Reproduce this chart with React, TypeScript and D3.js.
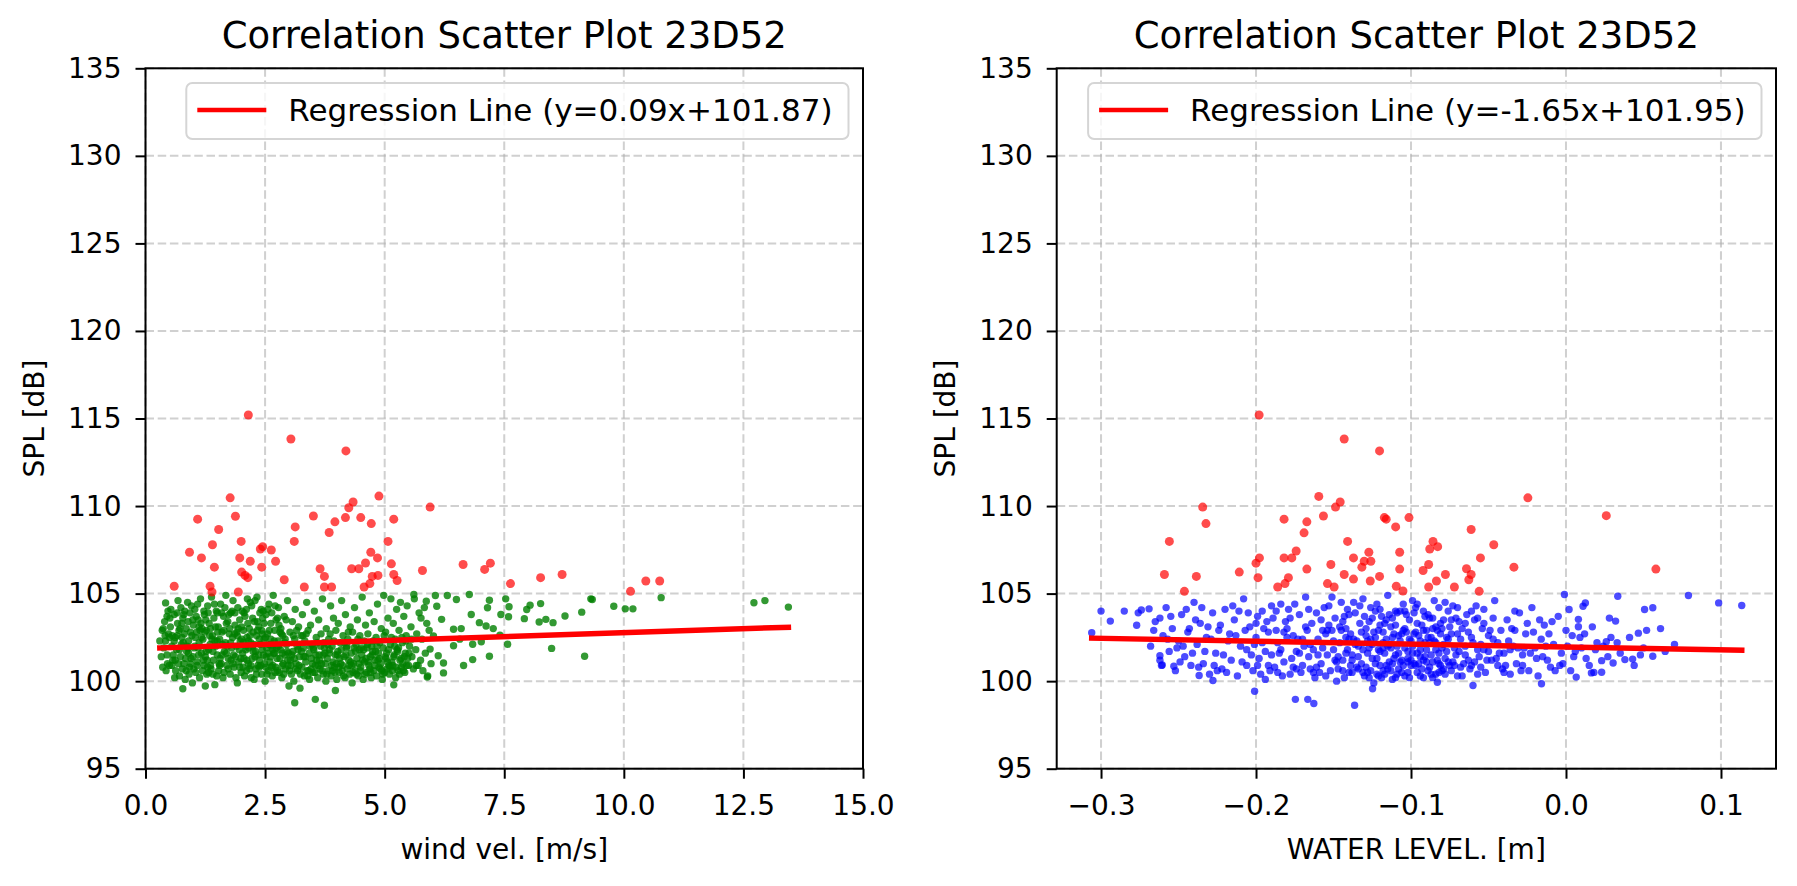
import React, { useEffect, useRef } from 'react';
import * as d3 from 'd3';

const FONT = '"DejaVu Sans", Verdana, sans-serif';

const splTicks = [95, 100, 105, 110, 115, 120, 125, 130, 135];
const windTicks = [0, 2.5, 5, 7.5, 10, 12.5, 15];
const levelTicks = [-0.3, -0.2, -0.1, 0.0, 0.1];

const chartTitle = 'Correlation Scatter Plot 23D52';
const yLabel = 'SPL [dB]';

// wind velocity vs SPL (points under the outlier threshold)
const windNormal: [number, number][] = [
  [0.3, 102.3], [0.35, 102.9], [0.38, 101.9], [0.4, 103.4], [0.42, 102.3], [0.42, 104.47], [0.45, 101.5], [0.47, 104.0], [0.48, 102.7], [0.5, 100.9], [0.52, 103.1],
  [0.55, 102.0], [0.57, 101.2], [0.6, 103.8], [0.62, 102.5], [0.63, 100.6], [0.65, 101.8], [0.67, 103.3], [0.7, 102.9], [0.71, 100.3], [0.73, 101.4], [0.74, 104.2], [0.75, 102.1],
  [0.78, 103.6], [0.78, 99.57], [0.8, 101.0], [0.81, 102.7], [0.83, 100.1], [0.85, 103.0], [0.86, 101.7], [0.88, 104.5], [0.9, 102.3], [0.92, 100.8], [0.93, 103.9], [0.95, 101.3], [0.97, 102.6], [0.98, 99.9], [1.0, 103.2],
  [1.02, 101.9], [1.03, 104.1], [1.05, 100.5], [1.07, 102.8], [1.08, 101.1], [1.1, 103.5], [1.12, 102.2], [1.13, 100.2], [1.15, 104.7], [1.17, 101.6], [1.18, 103.0], [1.2, 102.4], [1.22, 100.9], [1.23, 103.8], [1.25, 101.4], [1.25, 99.72],
  [1.27, 102.9], [1.28, 100.4], [1.3, 104.3], [1.32, 101.8], [1.33, 103.3], [1.35, 102.1], [1.37, 100.7], [1.38, 104.8], [1.4, 102.6], [1.42, 101.2], [1.43, 103.6], [1.45, 99.8], [1.47, 102.0], [1.48, 104.0], [1.5, 101.5],
  [1.52, 103.1], [1.53, 100.6], [1.55, 102.4], [1.57, 104.4], [1.58, 101.0], [1.6, 102.8], [1.62, 100.2], [1.63, 103.7], [1.65, 101.7], [1.67, 102.2], [1.68, 104.9], [1.7, 100.9], [1.72, 103.4], [1.73, 101.3], [1.75, 102.7],
  [1.77, 100.4], [1.78, 103.9], [1.8, 101.9], [1.82, 102.5], [1.83, 104.6], [1.85, 100.8], [1.87, 103.2], [1.88, 101.4], [1.9, 102.0], [1.92, 99.9], [1.93, 104.2], [1.95, 101.1], [1.97, 103.5], [1.98, 102.3], [2.0, 100.5],
  [2.02, 104.0], [2.03, 101.6], [2.05, 102.9], [2.07, 100.3], [2.08, 103.7], [2.1, 101.8], [2.12, 102.5], [2.13, 104.7], [2.15, 101.0], [2.17, 103.0], [2.18, 100.7], [2.2, 102.2], [2.22, 104.3], [2.23, 101.3], [2.25, 102.8],
  [2.27, 100.1], [2.28, 103.4], [2.3, 101.7], [2.32, 102.6], [2.33, 104.8], [2.35, 100.9], [2.37, 103.1], [2.38, 101.2], [2.4, 102.1], [2.42, 104.1], [2.43, 100.4], [2.45, 103.6], [2.47, 101.5], [2.48, 102.4], [2.5, 100.0],
  [2.52, 103.8], [2.53, 101.9], [2.55, 102.7], [2.57, 100.6], [2.58, 104.4], [2.6, 101.1], [2.62, 103.3], [2.63, 102.0], [2.65, 100.3], [2.67, 104.9], [2.68, 101.6], [2.7, 102.9], [2.72, 100.8], [2.73, 103.5], [2.75, 101.3],
  [2.77, 102.3], [2.78, 104.2], [2.8, 100.5], [2.82, 101.8], [2.83, 103.0], [2.85, 100.2], [2.87, 102.6], [2.88, 101.0], [2.9, 103.7], [2.92, 101.5], [2.93, 100.7], [2.95, 102.1], [2.97, 104.6], [2.98, 100.9], [3.0, 99.72],
  [3.02, 102.8], [3.03, 101.2], [3.05, 100.4], [3.07, 103.4], [3.08, 101.7], [3.1, 100.0], [3.12, 102.4], [3.12, 98.77], [3.13, 104.1], [3.15, 101.0], [3.17, 102.0], [3.18, 100.6], [3.2, 103.1], [3.22, 101.4], [3.23, 99.6], [3.25, 102.6],
  [3.27, 100.8], [3.28, 103.8], [3.3, 101.9], [3.32, 100.3], [3.33, 102.3], [3.35, 101.1], [3.37, 104.5], [3.38, 100.6], [3.4, 102.9], [3.42, 101.6], [3.43, 100.1], [3.45, 103.2], [3.47, 101.3], [3.48, 102.1], [3.5, 100.5],
  [3.52, 101.8], [3.53, 104.0], [3.55, 100.9], [3.55, 98.96], [3.57, 102.5], [3.58, 101.2], [3.6, 100.2], [3.62, 103.5], [3.63, 101.5], [3.65, 100.7], [3.67, 102.7], [3.68, 101.0], [3.7, 104.7], [3.72, 100.4], [3.73, 102.2], [3.74, 98.62], [3.75, 101.6],
  [3.77, 100.0], [3.78, 103.0], [3.8, 101.3], [3.82, 100.6], [3.83, 102.4], [3.85, 101.8], [3.87, 104.3], [3.88, 100.3], [3.9, 102.0], [3.92, 101.1], [3.93, 103.6], [3.95, 100.8], [3.97, 101.5], [3.97, 99.47], [3.98, 102.9], [4.0, 100.1],
  [4.02, 101.7], [4.03, 103.3], [4.05, 100.5], [4.07, 102.2], [4.08, 101.0], [4.1, 104.6], [4.12, 100.9], [4.13, 102.6], [4.15, 101.4], [4.17, 100.2], [4.18, 103.8], [4.2, 101.9], [4.22, 100.7], [4.23, 102.4], [4.25, 101.2],
  [4.27, 100.4], [4.28, 103.1], [4.3, 101.6], [4.32, 99.9], [4.33, 102.8], [4.35, 101.0], [4.37, 104.2], [4.38, 100.6], [4.4, 102.1], [4.42, 101.3], [4.43, 103.5], [4.45, 100.3], [4.47, 101.8], [4.48, 102.6], [4.5, 100.8],
  [4.52, 101.5], [4.53, 104.8], [4.55, 100.1], [4.57, 102.3], [4.58, 101.1], [4.6, 103.2], [4.62, 100.5], [4.63, 101.9], [4.65, 102.7], [4.67, 100.9], [4.68, 103.9], [4.7, 101.4], [4.72, 100.2], [4.73, 102.0], [4.75, 101.7],
  [4.77, 100.6], [4.78, 103.4], [4.8, 101.2], [4.82, 102.5], [4.83, 100.3], [4.85, 104.4], [4.87, 101.6], [4.88, 100.8], [4.9, 102.2], [4.92, 101.0], [4.93, 103.0], [4.95, 100.1], [4.97, 101.9], [4.98, 104.9], [5.0, 100.5],
  [5.02, 102.8], [5.03, 101.3], [5.05, 100.7], [5.07, 103.6], [5.08, 101.8], [5.1, 100.4], [5.12, 102.1], [5.13, 104.7], [5.15, 101.1], [5.17, 100.9], [5.18, 103.3], [5.19, 99.79], [5.2, 101.5], [5.22, 102.4], [5.23, 100.2], [5.25, 104.1],
  [5.27, 101.7], [5.28, 100.6], [5.3, 102.9], [5.32, 101.2], [5.33, 104.5], [5.35, 100.8], [5.37, 102.2], [5.38, 101.0], [5.4, 103.7], [5.42, 100.5], [5.43, 101.6], [5.45, 102.6], [5.47, 104.3], [5.48, 101.3], [5.5, 100.9],
  [5.52, 102.0], [5.55, 103.1], [5.57, 101.4], [5.6, 100.7], [5.61, 104.95], [5.62, 104.7], [5.65, 101.8], [5.67, 102.7], [5.7, 100.9], [5.72, 103.9], [5.75, 101.2],
  [5.78, 102.4], [5.8, 100.6], [5.83, 104.2], [5.85, 101.6], [5.87, 104.57], [5.88, 103.3], [5.89, 100.23], [5.9, 100.3], [5.93, 102.9], [5.95, 101.83], [5.97, 101.0],
  [6.02, 102.58], [6.06, 104.89], [6.09, 104.28], [6.12, 101.45], [6.19, 103.53], [6.23, 100.47], [6.23, 101.04], [6.31, 104.89], [6.44, 102.96], [6.44, 102.02], [6.5, 104.66],
  [6.57, 102.4], [6.6, 103.0], [6.65, 100.89], [6.77, 104.95], [6.81, 103.81], [6.84, 101.23], [6.84, 102.11], [6.98, 103.34], [7.02, 102.25], [7.12, 103.15], [7.15, 104.19],
  [7.19, 104.62], [7.19, 101.42], [7.27, 103.0], [7.41, 102.62], [7.43, 103.81], [7.53, 104.7], [7.57, 102.11], [7.59, 103.68], [7.6, 104.25], [7.92, 103.57], [7.97, 104.09],
  [8.04, 104.34], [8.23, 103.38], [8.26, 104.43], [8.37, 103.53], [8.49, 101.87], [8.52, 103.34], [8.77, 103.72], [9.12, 103.94], [9.18, 101.42], [9.31, 104.7], [9.34, 104.66],
  [9.79, 104.28], [10.03, 104.13], [10.19, 104.13], [10.78, 104.77], [12.72, 104.48], [12.95, 104.6], [13.44, 104.23],
  // denser core
  [0.45, 103.7], [0.55, 100.9], [0.6, 102.3], [0.68, 104.6], [0.72, 103.0], [0.77, 100.7], [0.82, 104.0], [0.87, 102.0], [0.9, 101.6], [0.96, 104.3],
  [1.01, 100.7], [1.04, 102.5], [1.09, 104.4], [1.11, 101.5], [1.16, 103.3], [1.19, 100.6], [1.24, 102.8], [1.29, 101.2], [1.31, 103.9], [1.36, 100.9],
  [1.39, 102.4], [1.44, 104.4], [1.49, 100.3], [1.51, 102.8], [1.56, 101.3], [1.59, 103.9], [1.64, 100.5], [1.66, 104.2], [1.71, 102.0], [1.74, 103.8],
  [1.79, 101.2], [1.81, 104.0], [1.86, 102.7], [1.89, 100.2], [1.94, 103.0], [1.96, 101.8], [2.01, 102.4], [2.04, 100.8], [2.06, 103.9], [2.09, 102.0],
  [2.11, 100.6], [2.14, 103.3], [2.16, 101.9], [2.19, 104.5], [2.21, 100.2], [2.24, 103.6], [2.26, 102.1], [2.29, 104.6], [2.31, 100.7], [2.34, 102.9],
  [2.36, 101.5], [2.39, 103.9], [2.41, 100.9], [2.44, 102.7], [2.46, 104.0], [2.49, 101.0], [2.51, 102.5], [2.54, 100.4], [2.56, 104.1], [2.59, 102.9],
  [2.61, 101.4], [2.64, 103.9], [2.66, 100.9], [2.69, 102.3], [2.71, 104.3], [2.74, 101.9], [2.76, 100.6], [2.79, 103.2], [2.81, 101.3], [2.84, 102.7],
  [2.89, 100.4], [2.94, 103.5], [2.96, 101.7], [3.04, 100.9], [3.09, 102.6], [3.14, 100.7], [3.19, 101.8], [3.24, 100.4], [3.29, 102.6], [3.34, 101.4],
  [3.39, 100.3], [3.44, 102.0], [3.49, 101.0], [3.54, 100.5], [3.59, 102.2], [3.64, 101.2], [3.69, 100.6], [3.74, 101.9], [3.79, 100.4], [3.84, 101.6],
  [3.89, 100.9], [3.94, 102.3], [3.99, 101.0], [4.04, 100.8], [4.09, 101.8], [4.14, 100.3], [4.19, 101.5], [4.24, 102.8], [4.29, 101.1], [4.34, 100.5],
  [4.39, 101.7], [4.44, 102.4], [4.49, 100.6], [4.54, 101.2], [4.59, 100.4], [4.64, 102.1], [4.69, 100.7], [4.74, 101.5], [4.79, 100.9], [4.84, 102.0],
  [4.89, 101.3], [4.94, 100.6], [4.99, 102.6], [5.04, 101.6], [5.09, 100.9], [5.14, 102.5], [5.19, 101.4], [5.24, 100.8], [5.29, 101.9], [5.34, 101.3],
  [5.39, 100.6], [5.44, 102.3],
  [0.33, 101.4], [0.37, 103.0], [0.43, 100.6], [0.5, 102.5], [0.53, 104.1], [0.58, 101.5], [0.61, 100.2], [0.66, 102.6], [0.69, 101.0], [0.76, 103.3],
  [0.79, 102.2], [0.84, 101.3], [0.89, 103.4], [0.91, 100.4], [0.94, 102.8], [0.99, 101.4], [1.06, 103.7], [1.1, 101.9], [1.14, 102.9], [1.21, 101.2],
  [1.26, 103.5], [1.3, 100.8], [1.34, 102.6], [1.41, 101.7], [1.46, 103.1], [1.5, 102.3], [1.54, 101.0], [1.61, 102.1], [1.69, 101.6], [1.76, 103.0],
  [1.84, 101.5], [1.91, 102.8], [1.99, 101.3], [2.05, 102.2], [2.12, 101.2], [2.18, 102.6], [2.25, 101.7], [2.32, 100.4], [2.38, 102.4], [2.44, 101.8],
  [2.52, 101.4], [2.58, 102.1], [2.63, 100.8], [2.7, 101.6], [2.78, 102.0], [2.86, 101.6], [2.92, 102.4], [2.99, 101.6], [3.06, 101.5], [3.16, 102.9],
  [3.26, 101.7], [3.36, 102.7], [3.46, 100.7], [3.56, 101.5], [3.66, 102.0], [3.76, 101.0], [3.86, 102.7], [3.96, 100.5], [4.06, 101.3], [4.16, 102.2],
  [4.26, 100.9], [4.36, 101.9], [4.46, 101.0], [4.56, 101.8], [4.66, 101.1], [4.76, 102.3], [4.86, 101.2], [4.96, 100.4], [5.06, 101.1], [5.16, 100.6],
  [5.26, 101.8], [5.36, 102.5], [5.46, 100.9], [5.56, 102.4], [5.66, 100.9], [5.76, 103.6],
  [0.36, 100.8], [0.41, 102.6], [0.46, 101.0], [0.51, 103.6], [0.56, 102.6], [0.62, 101.2], [0.66, 103.9], [0.71, 101.8], [0.76, 102.5], [0.8, 103.8],
  [0.85, 100.6], [0.89, 101.9], [0.94, 101.0], [0.99, 103.5], [1.03, 102.0], [1.08, 100.9], [1.12, 103.1], [1.17, 102.5], [1.22, 104.0], [1.27, 101.7],
  [1.32, 100.5], [1.36, 103.0], [1.41, 100.4], [1.45, 102.3], [1.5, 103.9], [1.55, 100.9], [1.6, 101.5], [1.64, 102.9], [1.69, 103.3], [1.73, 100.7],
  [1.78, 102.2], [1.83, 101.0], [1.87, 103.9], [1.92, 102.6], [1.97, 100.8], [2.01, 103.1], [2.06, 101.3], [2.11, 104.1], [2.15, 102.3], [2.2, 100.9],
  [2.24, 102.0], [2.29, 101.4], [2.34, 103.4], [2.38, 100.8], [2.43, 102.9], [2.48, 103.3], [2.52, 100.8], [2.57, 101.6], [2.62, 102.4], [2.66, 101.8],
  [2.71, 100.5], [2.76, 103.6], [2.81, 102.8], [2.86, 100.9], [2.91, 102.2], [2.97, 101.2], [3.01, 100.6], [3.11, 101.3], [3.21, 100.9], [3.31, 101.4],
  [3.41, 100.6], [3.51, 101.9], [3.61, 100.9], [3.71, 101.5], [3.81, 102.1], [3.91, 100.6], [4.01, 101.5], [4.11, 100.6], [4.21, 102.0], [4.31, 100.9],
  [4.41, 100.4], [4.51, 101.9], [4.61, 101.3], [4.71, 100.5], [4.81, 101.7], [4.91, 100.7], [5.01, 101.4], [5.11, 100.8], [5.21, 102.0], [5.31, 100.4],
  [5.41, 101.4], [5.51, 101.6],
];

// wind velocity vs SPL outliers (red)
const windOutliers: [number, number][] = [
  [2.15, 115.2], [3.04, 113.83], [4.19, 113.15], [1.77, 110.47], [4.88, 110.57], [4.34, 110.23], [4.25, 109.9], [1.09, 109.25],
  [1.88, 109.42], [3.13, 108.81], [3.51, 109.43], [3.96, 109.1], [4.18, 109.34], [4.5, 109.34], [4.72, 109.0], [5.19, 109.25],
  [1.53, 108.66], [3.84, 108.49], [3.11, 107.98], [5.07, 107.98], [2.0, 107.98], [1.4, 107.79], [0.92, 107.36], [1.17, 107.04],
  [2.4, 107.55], [2.45, 107.68], [2.63, 107.49], [1.97, 107.04], [2.19, 106.85], [2.72, 106.85], [1.44, 106.51], [2.01, 106.23],
  [2.08, 106.04], [2.14, 105.91], [2.43, 106.51], [2.9, 105.79], [3.65, 106.42], [3.74, 105.98], [3.74, 105.38], [3.89, 105.38],
  [3.32, 105.38], [4.31, 106.42], [4.46, 106.42], [4.6, 106.75], [4.71, 107.36], [4.85, 107.04], [4.86, 106.04], [4.74, 105.98],
  [4.69, 105.57], [4.57, 105.38], [5.14, 106.7], [5.19, 106.09], [5.26, 105.75], [0.6, 105.42], [1.35, 105.42], [1.39, 105.09],
  [1.94, 105.09], [5.95, 109.94], [5.79, 106.32], [6.64, 106.66], [7.09, 106.38], [7.21, 106.74], [7.63, 105.57], [8.26, 105.91],
  [8.71, 106.09], [10.14, 105.13], [10.46, 105.72], [10.75, 105.72],
];

// water level vs SPL (points under the outlier threshold)
const levelNormal: [number, number][] = [
  [-0.306, 102.77], [-0.3, 104.0], [-0.294, 103.43], [-0.285, 104.0], [-0.277, 103.19], [-0.276, 103.9], [-0.274, 104.06], [-0.269, 104.13],
  [-0.262, 101.45], [-0.2605, 100.92], [-0.253, 100.85],
  [-0.268, 102.0], [-0.265, 103.4], [-0.262, 101.2], [-0.26, 102.6], [-0.258, 104.2], [-0.256, 101.7], [-0.254, 103.0], [-0.252, 100.6], [-0.25, 102.3],
  [-0.248, 103.8], [-0.246, 101.4], [-0.244, 102.8], [-0.242, 100.9], [-0.24, 104.5], [-0.238, 102.1], [-0.236, 103.3], [-0.234, 101.0], [-0.232, 102.5], [-0.23, 100.4],
  [-0.2367, 100.32], [-0.2278, 100.04],
  [-0.228, 103.9], [-0.226, 101.6], [-0.224, 102.9], [-0.222, 100.7], [-0.22, 104.1], [-0.218, 102.3], [-0.216, 101.2], [-0.214, 103.5], [-0.212, 100.3], [-0.21, 102.0],
  [-0.208, 104.7], [-0.206, 101.8], [-0.204, 103.1], [-0.202, 100.6], [-0.2, 102.5], [-0.198, 101.3], [-0.196, 104.0], [-0.194, 100.1], [-0.192, 102.8], [-0.19, 101.5], [-0.189, 103.6],
  [-0.2009, 99.42],
  [-0.188, 100.8], [-0.186, 102.2], [-0.184, 104.4], [-0.182, 101.1], [-0.18, 103.0], [-0.178, 100.4], [-0.176, 102.6], [-0.174, 101.7], [-0.172, 103.8], [-0.17, 100.9], [-0.169, 102.0], [-0.168, 104.8],
  [-0.1746, 98.96], [-0.1666, 98.96], [-0.1627, 98.72],
  [-0.166, 101.4], [-0.164, 103.3], [-0.162, 100.2], [-0.16, 102.4], [-0.158, 101.0], [-0.156, 104.2], [-0.154, 102.9], [-0.152, 100.6], [-0.15, 101.8], [-0.149, 103.6], [-0.148, 100.0],
  [-0.146, 102.2], [-0.145, 104.5], [-0.144, 101.2], [-0.142, 103.0], [-0.14, 100.5], [-0.139, 102.7], [-0.138, 101.5], [-0.136, 103.9], [-0.135, 100.8], [-0.134, 102.0], [-0.132, 101.0], [-0.131, 104.7], [-0.13, 100.3],
  [-0.1364, 98.62], [-0.1248, 99.57],
  [-0.129, 102.6], [-0.128, 101.6], [-0.127, 103.4], [-0.126, 100.6], [-0.125, 102.1], [-0.124, 99.9], [-0.123, 104.0], [-0.122, 101.3], [-0.121, 102.9], [-0.12, 100.9],
  [-0.119, 103.7], [-0.118, 101.9], [-0.117, 100.4], [-0.116, 102.4], [-0.115, 104.9], [-0.114, 101.1], [-0.113, 103.1], [-0.112, 100.1], [-0.111, 102.7], [-0.11, 101.5],
  [-0.109, 103.9], [-0.108, 100.7], [-0.107, 102.3], [-0.106, 101.2], [-0.105, 104.4], [-0.104, 100.3], [-0.103, 102.8], [-0.102, 101.7], [-0.101, 103.5], [-0.1, 100.9],
  [-0.099, 102.0], [-0.098, 101.0], [-0.097, 104.2], [-0.096, 100.5], [-0.095, 102.6], [-0.094, 101.4], [-0.093, 103.2], [-0.092, 100.2], [-0.091, 102.2], [-0.09, 101.8],
  [-0.089, 103.8], [-0.088, 100.8], [-0.087, 102.5], [-0.086, 101.1], [-0.085, 104.6], [-0.084, 100.4], [-0.083, 102.9], [-0.083, 99.94], [-0.082, 101.6], [-0.081, 103.3], [-0.08, 100.6],
  [-0.079, 102.1], [-0.078, 101.3], [-0.076, 104.0], [-0.075, 100.9], [-0.074, 102.7], [-0.072, 101.9], [-0.071, 103.6], [-0.07, 100.3],
  [-0.068, 102.4], [-0.066, 101.0], [-0.064, 103.8], [-0.062, 100.7], [-0.06, 102.2], [-0.06, 99.75], [-0.058, 104.3], [-0.056, 101.4], [-0.054, 103.0], [-0.052, 100.5], [-0.05, 102.6],
  [-0.048, 101.2], [-0.046, 104.6], [-0.044, 100.9], [-0.042, 102.9], [-0.04, 101.6], [-0.038, 103.5], [-0.036, 100.4], [-0.034, 102.0], [-0.032, 101.0], [-0.03, 103.9],
  [-0.028, 101.5], [-0.026, 102.7], [-0.024, 100.6], [-0.022, 104.2], [-0.02, 101.9], [-0.018, 100.3], [-0.016, 102.4], [-0.0158, 99.85], [-0.014, 103.2], [-0.012, 101.2], [-0.01, 100.8],
  [-0.008, 102.1], [-0.005, 103.7], [-0.002, 101.0], [-0.001, 104.95], [0.0, 102.9], [0.002, 104.09], [0.003, 100.6], [0.006, 101.7], [0.0066, 100.23], [0.008, 103.53], [0.008, 103.11],
  [0.009, 102.5], [0.011, 104.28], [0.0125, 104.47], [0.013, 101.3], [0.0164, 100.47], [0.017, 103.1], [0.02, 102.2], [0.023, 101.17], [0.023, 100.51], [0.026, 102.25],
  [0.029, 102.5], [0.0304, 101.04], [0.032, 103.43], [0.0334, 104.85], [0.038, 101.23], [0.043, 101.26], [0.0467, 102.74], [0.0507, 104.09], [0.056, 104.19], [0.056, 101.42],
  [0.061, 103.0], [0.079, 104.89], [0.0985, 104.47], [0.1134, 104.32],
  // denser core
  [-0.251, 101.9], [-0.243, 103.0], [-0.237, 100.8], [-0.229, 102.4], [-0.221, 101.5], [-0.215, 104.3], [-0.207, 102.9], [-0.199, 100.9], [-0.193, 103.4], [-0.185, 101.6],
  [-0.179, 104.1], [-0.173, 102.4], [-0.165, 100.7], [-0.161, 103.9], [-0.157, 101.9], [-0.153, 103.2], [-0.147, 101.4], [-0.143, 100.2], [-0.141, 104.1], [-0.137, 102.4],
  [-0.133, 103.3], [-0.129, 100.8], [-0.127, 101.9], [-0.124, 102.8], [-0.122, 104.4], [-0.12, 101.7], [-0.118, 100.6], [-0.116, 103.5], [-0.114, 102.1], [-0.112, 101.0],
  [-0.11, 104.0], [-0.108, 102.6], [-0.106, 100.5], [-0.104, 103.0], [-0.102, 101.3], [-0.1, 102.3], [-0.098, 103.9], [-0.096, 101.6], [-0.094, 100.3], [-0.092, 102.9],
  [-0.09, 101.1], [-0.088, 102.2], [-0.086, 103.6], [-0.084, 101.8], [-0.082, 100.5], [-0.08, 103.0], [-0.077, 102.5], [-0.073, 101.1], [-0.069, 103.4], [-0.065, 102.0],
  [-0.061, 100.9], [-0.057, 103.6], [-0.053, 101.8], [-0.049, 102.9], [-0.045, 101.3], [-0.041, 100.7], [-0.037, 102.3], [-0.033, 104.0], [-0.027, 101.9], [-0.021, 102.8],
  [-0.015, 101.4], [-0.009, 103.4], [-0.003, 101.6],
  [-0.262, 103.6], [-0.257, 102.4], [-0.249, 101.1], [-0.245, 104.1], [-0.239, 103.5], [-0.233, 101.7], [-0.227, 100.9], [-0.223, 103.2], [-0.219, 100.5], [-0.213, 102.6],
  [-0.209, 101.1], [-0.205, 103.9], [-0.201, 102.1], [-0.197, 100.4], [-0.195, 103.0], [-0.191, 100.6], [-0.187, 102.9], [-0.183, 100.3], [-0.181, 103.4], [-0.177, 101.3],
  [-0.175, 104.4], [-0.171, 100.5], [-0.167, 102.9], [-0.163, 101.8], [-0.159, 100.5], [-0.155, 102.7], [-0.151, 104.8], [-0.149, 101.2], [-0.145, 102.9], [-0.143, 103.7],
  [-0.141, 101.8], [-0.139, 100.9], [-0.137, 104.5], [-0.135, 102.3], [-0.134, 101.4], [-0.132, 102.8], [-0.131, 100.5], [-0.13, 103.7], [-0.128, 102.3], [-0.127, 100.2],
  [-0.126, 104.2], [-0.125, 101.3], [-0.123, 102.5], [-0.122, 100.4], [-0.121, 101.8], [-0.12, 103.2], [-0.119, 100.2], [-0.118, 102.8], [-0.117, 101.6], [-0.116, 100.9],
  [-0.115, 102.0], [-0.114, 103.8], [-0.113, 100.6], [-0.112, 102.5], [-0.111, 101.3], [-0.11, 103.2], [-0.109, 100.4], [-0.108, 101.6], [-0.107, 104.0], [-0.106, 102.7],
  [-0.105, 100.9], [-0.104, 101.9], [-0.103, 103.8], [-0.102, 100.5], [-0.101, 102.4], [-0.1, 101.2], [-0.099, 104.6], [-0.098, 102.7], [-0.097, 100.9], [-0.096, 103.3],
  [-0.095, 101.0], [-0.094, 102.3], [-0.093, 100.7], [-0.092, 104.0], [-0.091, 101.4], [-0.09, 102.9], [-0.089, 100.6], [-0.088, 103.6], [-0.087, 101.5], [-0.086, 100.2],
  [-0.085, 102.3], [-0.084, 103.1], [-0.083, 101.2], [-0.082, 104.2], [-0.081, 100.9], [-0.08, 101.9], [-0.079, 103.5], [-0.078, 100.4], [-0.077, 101.7], [-0.076, 102.4],
  [-0.075, 103.1], [-0.074, 100.6], [-0.073, 104.3], [-0.071, 101.5], [-0.07, 102.7], [-0.068, 100.8], [-0.067, 103.0], [-0.065, 101.5], [-0.063, 102.8], [-0.061, 104.0],
  [-0.059, 101.1], [-0.057, 100.4], [-0.055, 102.1], [-0.053, 103.3], [-0.051, 101.2], [-0.047, 102.4], [-0.043, 101.6], [-0.039, 100.9], [-0.035, 103.0], [-0.031, 101.9],
  [-0.029, 100.6], [-0.025, 103.3], [-0.019, 101.3], [-0.013, 102.0], [-0.007, 100.6], [0.001, 102.0], [0.005, 101.4], [0.012, 102.7], [0.015, 100.9], [0.019, 101.8],
  [0.024, 102.0], [0.028, 103.6], [0.035, 101.6], [0.041, 102.5], [0.048, 101.5], [0.052, 102.9], [0.064, 101.7], [0.07, 102.1],
  [-0.203, 101.5], [-0.199, 103.7], [-0.196, 102.2], [-0.192, 100.9], [-0.187, 104.0], [-0.184, 101.8], [-0.18, 102.5], [-0.176, 100.8], [-0.172, 101.6], [-0.168, 103.1],
  [-0.165, 102.1], [-0.161, 100.8], [-0.158, 103.5], [-0.154, 101.5], [-0.151, 102.9], [-0.147, 100.7], [-0.144, 103.4], [-0.142, 101.6], [-0.14, 102.4], [-0.138, 100.5],
  [-0.266, 102.9], [-0.261, 100.9], [-0.255, 103.7], [-0.247, 102.0], [-0.241, 101.6], [-0.235, 104.2], [-0.231, 103.1], [-0.225, 100.6], [-0.217, 102.7], [-0.211, 104.0],
  [-0.206, 100.9], [-0.2, 103.3], [-0.194, 101.7], [-0.19, 104.3], [-0.186, 100.5], [-0.182, 102.8], [-0.178, 103.6], [-0.174, 100.7], [-0.17, 102.4], [-0.166, 104.1],
  [-0.163, 100.5], [-0.16, 101.5], [-0.157, 102.9], [-0.155, 100.3], [-0.153, 104.3], [-0.15, 102.3], [-0.148, 101.1], [-0.146, 103.1], [-0.144, 100.6], [-0.142, 102.5],
  [-0.14, 103.8], [-0.138, 101.2], [-0.136, 102.1], [-0.134, 100.7], [-0.133, 104.3], [-0.131, 101.8], [-0.129, 103.0], [-0.128, 100.5], [-0.126, 102.4], [-0.125, 103.6],
  [-0.123, 101.0], [-0.121, 100.3], [-0.12, 104.1], [-0.118, 102.2], [-0.117, 103.3], [-0.115, 100.7], [-0.113, 101.9], [-0.112, 103.6], [-0.11, 100.2], [-0.109, 102.0],
  [-0.107, 101.1], [-0.105, 102.9], [-0.104, 104.0], [-0.102, 101.1], [-0.101, 100.2], [-0.099, 101.6], [-0.097, 102.8], [-0.096, 104.4], [-0.094, 101.8], [-0.092, 101.2],
  [-0.091, 103.7], [-0.089, 102.5], [-0.087, 100.4], [-0.086, 103.0], [-0.084, 102.2], [-0.082, 101.0], [-0.081, 102.7], [-0.079, 100.7], [-0.078, 104.5], [-0.076, 101.1],
  [-0.074, 103.5], [-0.072, 100.9], [-0.07, 104.2], [-0.069, 101.7], [-0.067, 100.3], [-0.065, 103.3], [-0.063, 101.2], [-0.061, 102.5], [-0.059, 103.5], [-0.057, 101.8],
  [-0.055, 100.8], [-0.053, 104.1], [-0.05, 101.7], [-0.047, 103.6], [-0.044, 102.2], [-0.04, 100.5], [-0.036, 101.8], [-0.033, 102.9], [-0.028, 100.9], [-0.023, 101.6],
  [-0.017, 103.5], [-0.011, 102.7], [-0.004, 100.9], [0.004, 102.6], [0.01, 101.9], [0.018, 100.5], [0.027, 101.4], [0.033, 102.2], [0.044, 100.9], [0.05, 101.9],
];

// water level vs SPL outliers (red)
const levelOutliers: [number, number][] = [
  [-0.198, 115.2], [-0.1431, 113.83], [-0.1203, 113.15], [-0.2344, 109.94], [-0.2323, 109.0], [-0.2559, 107.98], [-0.2591, 106.09],
  [-0.2385, 105.98], [-0.2462, 105.13], [-0.1595, 110.55], [-0.1457, 110.23], [-0.1487, 109.94], [-0.1819, 109.25], [-0.1672, 109.1],
  [-0.1565, 109.43], [-0.169, 108.47], [-0.1172, 109.34], [-0.116, 109.25], [-0.1099, 108.81], [-0.1013, 109.34], [-0.0246, 110.47],
  [-0.0612, 108.66], [-0.1409, 107.98], [-0.0858, 107.98], [-0.0879, 107.55], [-0.0828, 107.68], [-0.0466, 107.79], [-0.1741, 107.43],
  [-0.1978, 107.04], [-0.2, 106.74], [-0.1819, 107.04], [-0.1769, 107.04], [-0.1371, 107.04], [-0.1272, 107.36], [-0.1073, 107.36],
  [-0.0552, 107.04], [-0.1302, 106.85], [-0.1259, 106.85], [-0.1317, 106.51], [-0.1517, 106.66], [-0.1672, 106.4], [-0.0886, 106.66],
  [-0.1073, 106.4], [-0.0922, 106.32], [-0.0642, 106.42], [-0.0336, 106.51], [-0.2108, 106.23], [-0.1987, 105.91], [-0.1791, 105.91],
  [-0.1431, 106.09], [-0.1371, 105.83], [-0.1203, 105.98], [-0.0778, 106.09], [-0.0612, 106.09], [-0.0627, 105.79], [-0.0836, 105.72],
  [-0.1263, 105.72], [-0.1539, 105.57], [-0.1496, 105.38], [-0.186, 105.38], [-0.1813, 105.57], [-0.1095, 105.42], [-0.1052, 105.15],
  [-0.0886, 105.38], [-0.072, 105.38], [-0.056, 105.13], [0.058, 106.4], [0.026, 109.45],
];

const windFit = { slope: 0.09, intercept: 101.87 };
const levelFit = { slope: -1.65, intercept: 101.95 };

const panels = [
  {
    id: 'wind', left: 145.5, right: 863, domain: [0, 15] as [number, number], ticks: windTicks,
    xLabel: 'wind vel. [m/s]', normal: windNormal, color: '#008000', opacity: 0.8, outliers: windOutliers, fit: windFit,
  },
  {
    id: 'level', left: 1056.7, right: 1776, domain: [-0.3286, 0.1355] as [number, number], ticks: levelTicks,
    xLabel: 'WATER LEVEL. [m]', normal: levelNormal, color: '#0000ff', opacity: 0.7, outliers: levelOutliers, fit: levelFit,
  },
];

const App: React.FC = () => {
  const ref = useRef<SVGSVGElement | null>(null);

  useEffect(() => {
    if (!ref.current) return;
    const svg = d3.select(ref.current);
    svg.selectAll('*').remove();

    const top = 68.3;
    const bottom = 768.7;
    const y = d3.scaleLinear().domain([95, 135]).range([bottom, top]);
    const fmt = d3.format('.1f');

    panels.forEach((p) => {
      const x = d3.scaleLinear().domain(p.domain).range([p.left, p.right]);
      const g = svg.append('g');

      g.append('clipPath').attr('id', `clip-${p.id}`)
        .append('rect').attr('x', p.left).attr('y', top)
        .attr('width', p.right - p.left).attr('height', bottom - top);

      // grid
      const grid = g.append('g')
        .attr('stroke', '#b0b0b0').attr('stroke-opacity', 0.6)
        .attr('stroke-width', 2).attr('stroke-dasharray', '8.5,3.7');
      grid.selectAll('line.vx').data(p.ticks).join('line')
        .attr('x1', (d) => x(d)).attr('x2', (d) => x(d)).attr('y1', top).attr('y2', bottom);
      grid.selectAll('line.hy').data(splTicks).join('line')
        .attr('x1', p.left).attr('x2', p.right).attr('y1', (d) => y(d)).attr('y2', (d) => y(d));

      const plot = g.append('g').attr('clip-path', `url(#clip-${p.id})`);

      plot.append('g').selectAll('circle').data(p.normal).join('circle')
        .attr('cx', (d) => x(d[0])).attr('cy', (d) => y(d[1])).attr('r', 3.7)
        .attr('fill', p.color).attr('fill-opacity', p.opacity);

      plot.append('g').selectAll('circle').data(p.outliers).join('circle')
        .attr('cx', (d) => x(d[0])).attr('cy', (d) => y(d[1])).attr('r', 4.5)
        .attr('fill', '#ff0000').attr('fill-opacity', 0.7);

      // regression line over the data's x range
      const allX = [...p.normal, ...p.outliers].map((d) => d[0]);
      const xr = d3.extent(allX) as [number, number];
      const fitLine = d3.line<number>()
        .x((d) => x(d))
        .y((d) => y(p.fit.slope * d + p.fit.intercept));
      plot.append('path').datum(xr).attr('d', fitLine)
        .attr('stroke', '#ff0000').attr('stroke-width', 5.5).attr('fill', 'none')
        .attr('stroke-linecap', 'square');

      // frame
      g.append('rect').attr('x', p.left).attr('y', top)
        .attr('width', p.right - p.left).attr('height', bottom - top)
        .attr('fill', 'none').attr('stroke', '#000').attr('stroke-width', 2);

      // axes
      const xAxis = g.append('g').attr('transform', `translate(0,${bottom})`)
        .call(d3.axisBottom(x).tickValues(p.ticks).tickFormat((d) => fmt(d as number))
          .tickSize(10).tickPadding(16).tickSizeOuter(0));
      xAxis.select('.domain').remove();
      xAxis.selectAll('line').attr('stroke', '#000').attr('stroke-width', 2);
      xAxis.selectAll('text').attr('font-size', 28).attr('font-family', FONT).attr('fill', '#000');

      const yAxis = g.append('g').attr('transform', `translate(${p.left},0)`)
        .call(d3.axisLeft(y).tickValues(splTicks).tickFormat(d3.format('d'))
          .tickSize(10).tickPadding(14).tickSizeOuter(0));
      yAxis.select('.domain').remove();
      yAxis.selectAll('line').attr('stroke', '#000').attr('stroke-width', 2);
      yAxis.selectAll('text').attr('font-size', 28).attr('font-family', FONT).attr('fill', '#000');

      const cx = (p.left + p.right) / 2;
      g.append('text').attr('x', cx).attr('y', 48).attr('text-anchor', 'middle')
        .attr('font-size', 37).attr('font-family', FONT).attr('fill', '#000').text(chartTitle);
      g.append('text').attr('x', cx).attr('y', 859).attr('text-anchor', 'middle')
        .attr('font-size', 28).attr('font-family', FONT).attr('fill', '#000').text(p.xLabel);
      g.append('text').attr('transform', `translate(${p.left - 102},${(top + bottom) / 2}) rotate(-90)`)
        .attr('text-anchor', 'middle').attr('font-size', 28).attr('font-family', FONT)
        .attr('fill', '#000').text(yLabel);

      // legend (upper right)
      const lg = g.append('g');
      const box = lg.append('rect');
      const label = `Regression Line (y=${p.fit.slope.toFixed(2)}x+${p.fit.intercept.toFixed(2)})`;
      const txt = lg.append('text').attr('y', 121).attr('font-size', 31).attr('font-family', FONT)
        .attr('fill', '#000').text(label);
      const tw = (txt.node() as SVGTextElement).getComputedTextLength();
      const bRight = p.right - 14.5;
      const bLeft = bRight - (102 + tw + 16);
      txt.attr('x', bLeft + 102);
      box.attr('x', bLeft).attr('y', 83).attr('width', bRight - bLeft).attr('height', 56)
        .attr('rx', 6).attr('fill', '#fff').attr('fill-opacity', 0.8)
        .attr('stroke', '#d5d5d5').attr('stroke-width', 2);
      lg.append('line').attr('x1', bLeft + 11).attr('x2', bLeft + 80).attr('y1', 110).attr('y2', 110)
        .attr('stroke', '#ff0000').attr('stroke-width', 4.5);
    });
  }, []);

  return (
    <div style={{ position: 'absolute', left: 0, top: 0, width: 1797, height: 886, background: '#fff' }}>
      <svg ref={ref} width={1797} height={886} />
    </div>
  );
};

export default App;
